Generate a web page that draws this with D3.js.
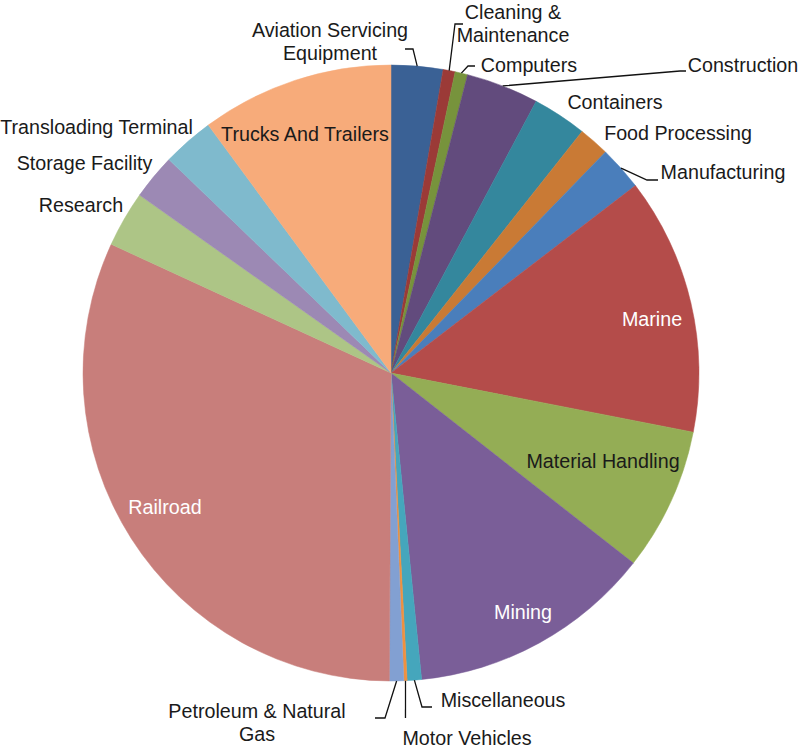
<!DOCTYPE html>
<html>
<head>
<meta charset="utf-8">
<script src="https://cdn.jsdelivr.net/npm/d3@7"></script>
<style>
  html, body { margin: 0; padding: 0; background: #fff; }
  svg { display: block; }
  text { font-family: "Liberation Sans", Arial, Helvetica, sans-serif; }
</style>
</head>
<body>
<script>
// ---- data ----
const categories = [
  "Aviation Servicing Equipment", "Cleaning & Maintenance", "Computers", "Construction",
  "Containers", "Food Processing", "Manufacturing", "Marine", "Material Handling",
  "Mining", "Miscellaneous", "Motor Vehicles", "Petroleum & Natural Gas", "Railroad",
  "Research", "Storage Facility", "Transloading Terminal", "Trucks And Trailers"
];
const values = [2.71, 0.63, 0.66, 3.81, 2.84, 1.61, 2.33, 13.49, 7.51, 12.83,
                0.75, 0.17, 0.75, 31.78, 2.94, 2.38, 2.71, 10.11];
const colors = ["#3a6195", "#9b3a37", "#77933c", "#624b7d", "#34879d", "#c97a35",
                "#4a7ebb", "#b44c4a", "#94ad55", "#7a5e98", "#45a6bc", "#f0913f",
                "#82a0d2", "#c87e7b", "#adc586", "#9c89b4", "#7fbacd", "#f7ab7a"];
const labelLines = [
  ["Aviation Servicing", "Equipment"], ["Cleaning &", "Maintenance"], ["Computers"], ["Construction"],
  ["Containers"], ["Food Processing"], ["Manufacturing"], ["Marine"], ["Material Handling"],
  ["Mining"], ["Miscellaneous"], ["Motor Vehicles"], ["Petroleum & Natural", "Gas"], ["Railroad"],
  ["Research"], ["Storage Facility"], ["Transloading Terminal"], ["Trucks And Trailers"]
];

// ---- layout (label placement, leader elbows) ----
const W = 800, H = 749;
const cx = 391, cy = 373, R = 308;
const fontSize = 19.7, lineH = 23;
const labelPos = [
  {x: 330, y: 41.5, fill: "#1a1a1a", leader: [[405, 49], [413, 49]]},
  {x: 513, y: 23.5, fill: "#1a1a1a", leader: [[463, 24], [455, 24]]},
  {x: 529, y: 65, fill: "#1a1a1a", leader: [[475, 66], [468, 66]]},
  {x: 743, y: 65, fill: "#1a1a1a", leader: [[686, 71], [680, 71]]},
  {x: 615, y: 102, fill: "#1a1a1a"},
  {x: 678, y: 133, fill: "#1a1a1a"},
  {x: 723, y: 172, fill: "#1a1a1a", leader: [[658, 180], [647, 180]]},
  {x: 652, y: 319, fill: "#ffffff"},
  {x: 603, y: 461, fill: "#1a1a1a"},
  {x: 523, y: 612, fill: "#ffffff"},
  {x: 503, y: 700, fill: "#1a1a1a", leader: [[432, 707], [422, 707]]},
  {x: 467, y: 738, fill: "#1a1a1a", leader: [[405.5, 718]]},
  {x: 257, y: 723, fill: "#1a1a1a", leader: [[375, 718], [385, 718]]},
  {x: 165, y: 507, fill: "#ffffff"},
  {x: 81, y: 205, fill: "#1a1a1a"},
  {x: 84.5, y: 163, fill: "#1a1a1a"},
  {x: 96.5, y: 127, fill: "#1a1a1a"},
  {x: 305, y: 134, fill: "#1a1a1a"}
];

const svg = d3.select("body").append("svg").attr("width", W).attr("height", H);
svg.append("rect").attr("width", W).attr("height", H).attr("fill", "#fff");

const rows = categories.map((c, i) => ({cat: c, value: values[i], i}));
const pie = d3.pie().sort(null).value(d => d.value).startAngle(0).endAngle(2 * Math.PI);
const arcs = pie(rows);
const arc = d3.arc().innerRadius(0).outerRadius(R);

const g = svg.append("g").attr("transform", `translate(${cx},${cy})`);
g.selectAll("path.slice").data(arcs).join("path")
  .attr("class", "slice")
  .attr("d", arc)
  .attr("fill", d => colors[d.data.i])
  .attr("stroke", d => colors[d.data.i])
  .attr("stroke-width", 0.5);

// leader lines
const line = d3.line();
arcs.forEach(a => {
  const lp = labelPos[a.data.i];
  if (!lp.leader) return;
  const mid = (a.startAngle + a.endAngle) / 2;
  const p = [cx + R * Math.sin(mid), cy - R * Math.cos(mid)];
  svg.append("path")
    .attr("d", line([...lp.leader, p]))
    .attr("fill", "none")
    .attr("stroke", "#111")
    .attr("stroke-width", 1.3);
});

// labels
arcs.forEach(a => {
  const lp = labelPos[a.data.i];
  const lines = labelLines[a.data.i];
  const t = svg.append("text")
    .attr("text-anchor", "middle")
    .attr("font-size", fontSize)
    .attr("fill", lp.fill);
  const y0 = lp.y - (lines.length - 1) * lineH / 2;
  lines.forEach((s, k) => {
    t.append("tspan")
      .attr("x", lp.x)
      .attr("y", y0 + k * lineH)
      .attr("dy", "0.35em")
      .text(s);
  });
});
</script>
</body>
</html>
